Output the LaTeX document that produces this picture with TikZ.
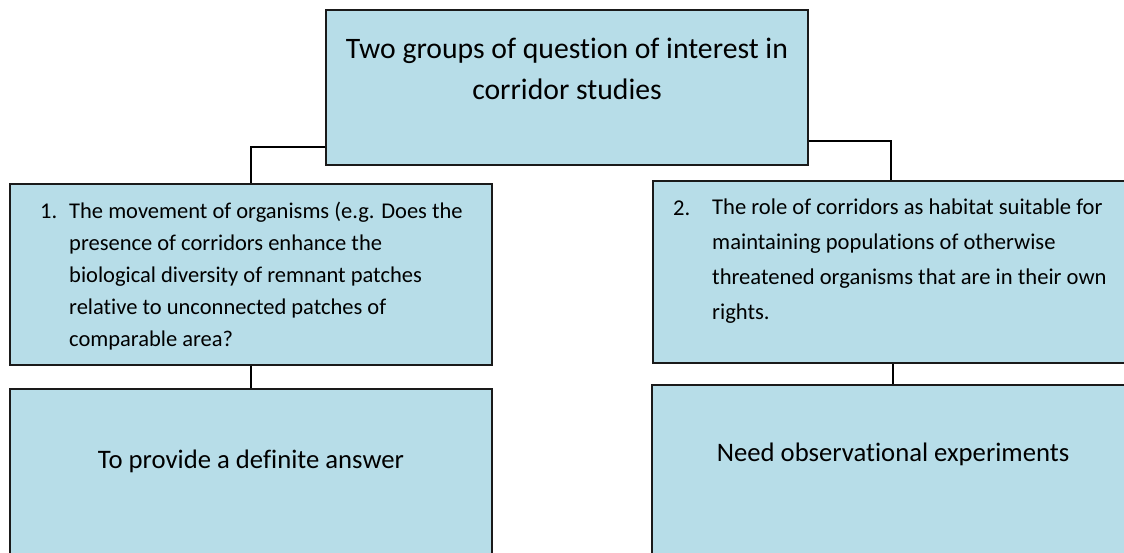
\documentclass[tikz,border=0pt]{standalone}
\usepackage{fontspec}
\setmainfont{Carlito}[Ligatures={NoCommon}]
\definecolor{boxfill}{HTML}{B7DDE8}
\definecolor{boxline}{HTML}{1A1A1A}
\tikzset{
  box/.style={draw=boxline, fill=boxfill, line width=1.5pt, rectangle, inner sep=0pt},
  conn/.style={draw=black, line width=2.2pt},
  txt/.style={inner sep=0pt, text=black, align=left},
}
\begin{document}
\begin{tikzpicture}[x=1pt,y=-1pt]
\useasboundingbox (0,0) rectangle (1124,553);
\clip (0,0) rectangle (1124,553);
\fill[white] (0,0) rectangle (1124,553);
% boxes
\node[box, minimum width=482pt, minimum height=155pt] (top) at (567,87.5) {};
\node[box, minimum width=482pt, minimum height=181pt] (left) at (251,274.5) {};
\node[box, minimum width=476pt, minimum height=182pt] (right) at (891,272) {};
\node[box, minimum width=482pt, minimum height=230pt] (bl) at (251,504) {};
\node[box, minimum width=482pt, minimum height=230pt] (br) at (893,500) {};
% connectors
\draw[conn] (top.west |- 0,147) -| (left.north);
\draw[conn] (top.east |- 0,141) -| (right.north);
\draw[conn] (left.south) -- (left.south |- bl.north);
\draw[conn] (right.south -| br.north) -- (br.north);
% texts
\node[txt, align=center, font=\fontsize{29.7}{41}\selectfont] (toptext) at (567,69) {Two groups of question of interest in\\corridor studies};
\node[txt, anchor=west, font=\fontsize{22.5}{32}\selectfont] (n1) at (40,211) {1.};
\node[txt, anchor=west, font=\fontsize{22.5}{32}\selectfont] (lefttext) at (69,276) {The movement of organisms (e.g. Does the\\presence of corridors enhance the\\biological diversity of remnant patches\\relative to unconnected patches of\\comparable area?};
\node[txt, anchor=west, font=\fontsize{22.6}{35}\selectfont] (n2) at (673,208) {2.};
\node[txt, anchor=west, font=\fontsize{22.6}{35}\selectfont] (righttext) at (712,261) {The role of corridors as habitat suitable for\\maintaining populations of otherwise\\threatened organisms that are in their own\\rights.};
\node[txt, font=\fontsize{26.7}{30}\selectfont] (bltext) at (251,461) {To provide a definite answer};
\node[txt, font=\fontsize{26.7}{30}\selectfont] (brtext) at (893,454) {Need observational experiments};
\end{tikzpicture}
\end{document}
